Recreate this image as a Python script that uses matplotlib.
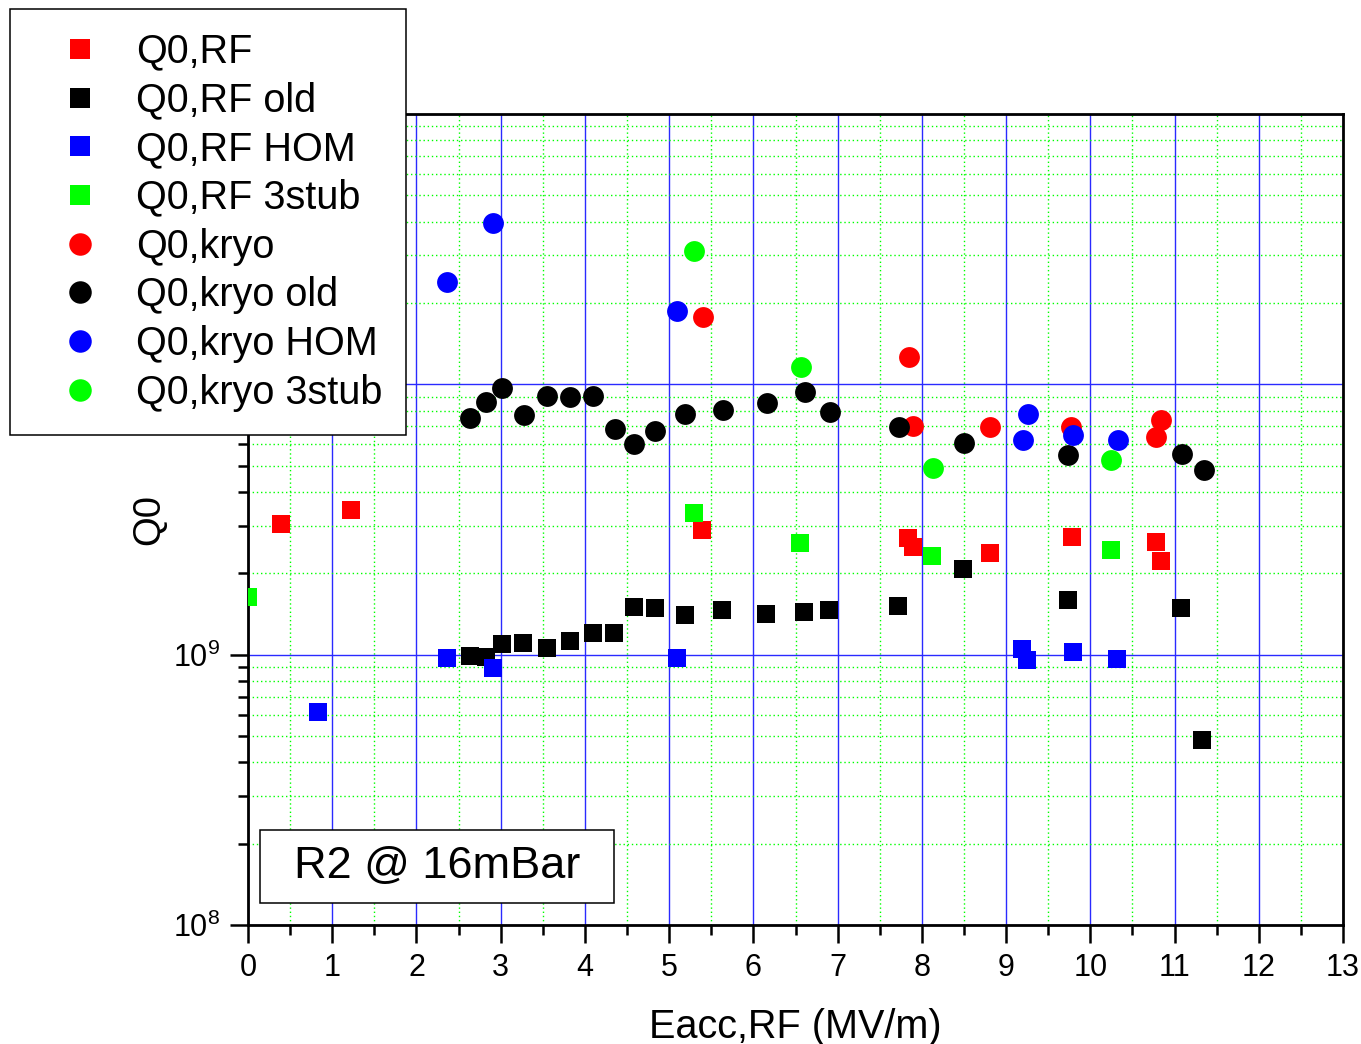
import matplotlib
matplotlib.use('Agg')
import matplotlib.pyplot as plt
from matplotlib.ticker import LogLocator, MultipleLocator, NullFormatter, FuncFormatter
from matplotlib.patches import Rectangle
import numpy as np

plt.rcParams['font.family'] = ['Liberation Sans', 'DejaVu Sans']
plt.rcParams['mathtext.fontset'] = 'custom'
plt.rcParams['mathtext.rm'] = 'Liberation Sans'
plt.rcParams['mathtext.it'] = 'Liberation Sans:italic'
plt.rcParams['mathtext.bf'] = 'Liberation Sans:bold'

# --- data (Eacc in MV/m, Q0) ---
rf_x = [0.39, 1.22, 5.39, 7.84, 7.90, 8.81, 9.78, 10.78, 10.84]
rf_q = [3.04e9, 3.42e9, 2.89e9, 2.70e9, 2.51e9, 2.38e9, 2.73e9, 2.61e9, 2.22e9]

rf_old_x = [2.64, 2.82, 3.01, 3.27, 3.55, 3.82, 4.10, 4.35, 4.58, 4.83,
            5.19, 5.63, 6.15, 6.60, 6.90, 7.72, 8.49, 9.73, 11.08, 11.33]
rf_old_q = [0.986e9, 0.977e9, 1.092e9, 1.104e9, 1.058e9, 1.126e9, 1.202e9,
            1.199e9, 1.496e9, 1.487e9, 1.400e9, 1.462e9, 1.409e9, 1.442e9,
            1.466e9, 1.520e9, 2.080e9, 1.592e9, 1.487e9, 0.485e9]

rf_hom_x = [0.83, 2.36, 2.91, 5.09, 9.19, 9.25, 9.79, 10.32]
rf_hom_q = [6.15e8, 9.75e8, 8.90e8, 9.72e8, 1.052e9, 9.59e8, 1.020e9, 9.67e8]

rf_3stub_x = [0.0, 5.29, 6.55, 8.12, 10.24]
rf_3stub_q = [1.64e9, 3.34e9, 2.59e9, 2.32e9, 2.44e9]

kryo_x = [5.40, 7.85, 7.90, 8.81, 9.77, 10.84, 10.78]
kryo_q = [1.77e10, 1.26e10, 7.01e9, 6.93e9, 6.93e9, 7.36e9, 6.37e9]

kryo_old_x = [2.64, 2.83, 3.01, 3.28, 3.55, 3.82, 4.10, 4.36, 4.58, 4.83,
              5.19, 5.64, 6.16, 6.61, 6.91, 7.73, 8.50, 9.74, 11.09, 11.35]
kryo_old_q = [7.52e9, 8.61e9, 9.73e9, 7.69e9, 9.04e9, 8.96e9, 9.04e9, 6.82e9,
              6.04e9, 6.71e9, 7.75e9, 8.04e9, 8.56e9, 9.40e9, 7.91e9, 6.95e9,
              6.09e9, 5.46e9, 5.53e9, 4.82e9]

kryo_hom_x = [2.36, 2.91, 5.09, 9.26, 9.20, 9.80, 10.33]
kryo_hom_q = [2.40e10, 3.94e10, 1.86e10, 7.75e9, 6.25e9, 6.52e9, 6.25e9]

kryo_3stub_x = [5.30, 6.56, 8.13, 10.25]
kryo_3stub_q = [3.12e10, 1.16e10, 4.91e9, 5.26e9]

series = [
    (rf_x, rf_q, 's', '#ff0000', 'Q0,RF'),
    (rf_old_x, rf_old_q, 's', '#000000', 'Q0,RF old'),
    (rf_hom_x, rf_hom_q, 's', '#0000ff', 'Q0,RF HOM'),
    (rf_3stub_x, rf_3stub_q, 's', '#00ff00', 'Q0,RF 3stub'),
    (kryo_x, kryo_q, 'o', '#ff0000', 'Q0,kryo'),
    (kryo_old_x, kryo_old_q, 'o', '#000000', 'Q0,kryo old'),
    (kryo_hom_x, kryo_hom_q, 'o', '#0000ff', 'Q0,kryo HOM'),
    (kryo_3stub_x, kryo_3stub_q, 'o', '#00ff00', 'Q0,kryo 3stub'),
]

W, H = 1361, 1044
fig = plt.figure(figsize=(W / 100, H / 100), dpi=100)
ax = fig.add_axes([248 / W, 1 - 925 / H, (1343 - 248) / W, (925 - 114) / H])

for x, q, mk, col, lab in series:
    ms = 13 if mk == 's' else 15
    ax.plot(x, q, linestyle='none', marker=mk, markersize=ms, color=col,
            markeredgewidth=0, label=lab, zorder=3)

ax.set_yscale('log')
ax.set_xlim(0, 13)
ax.set_ylim(1e8, 1e11)


def decade_label(v, pos):
    # the 1e10 / 1e11 labels sit behind the legend in the original
    e = int(round(np.log10(v)))
    if e >= 10:
        return ''
    return r'$\mathregular{10^{%d}}$' % e


ax.xaxis.set_major_locator(MultipleLocator(1))
ax.xaxis.set_minor_locator(MultipleLocator(0.5))
ax.yaxis.set_major_locator(LogLocator(base=10, numticks=10))
ax.yaxis.set_major_formatter(FuncFormatter(decade_label))
ax.yaxis.set_minor_locator(LogLocator(base=10, subs=range(2, 10), numticks=20))
ax.yaxis.set_minor_formatter(NullFormatter())

ax.set_axisbelow(True)
ax.grid(which='major', color='#2a2aff', linewidth=1.0, linestyle='-')
ax.grid(which='minor', color='#00ff00', linewidth=1.0, linestyle=(0, (1, 2)))

ax.tick_params(which='major', direction='out', length=13, width=1.8,
               labelsize=22, pad=7, top=False, right=False)
ax.tick_params(which='minor', direction='out', length=7, width=1.8,
               top=False, right=False)
ax.tick_params(axis='y', which='major', labelsize=22, pad=7)
for sp in ax.spines.values():
    sp.set_linewidth(2.0)

ax.set_xlabel('Eacc,RF (MV/m)', fontsize=28.5, labelpad=18)
ax.set_ylabel('Q0', fontsize=27.5, labelpad=4)

# label box in the lower left corner
ax.add_patch(Rectangle((12 / 1095, 22 / 811), 354 / 1095, 73 / 811,
                       transform=ax.transAxes, facecolor='white',
                       edgecolor='black', linewidth=1.1, zorder=4))
ax.text(189 / 1095, 58.5 / 811, 'R2 @ 16mBar', transform=ax.transAxes,
        ha='center', va='center', fontsize=32.5, zorder=5)

leg = fig.legend(loc='upper left', bbox_to_anchor=(10 / W, 1 - 9 / H),
                 borderaxespad=0, fontsize=28.5, frameon=True, fancybox=False,
                 framealpha=1, edgecolor='black', borderpad=0.6,
                 handlelength=2.33, handletextpad=0.25, labelspacing=0.27,
                 markerscale=1.08)
leg.get_frame().set_linewidth(1.1)

fig.savefig('out.png', dpi=100)
